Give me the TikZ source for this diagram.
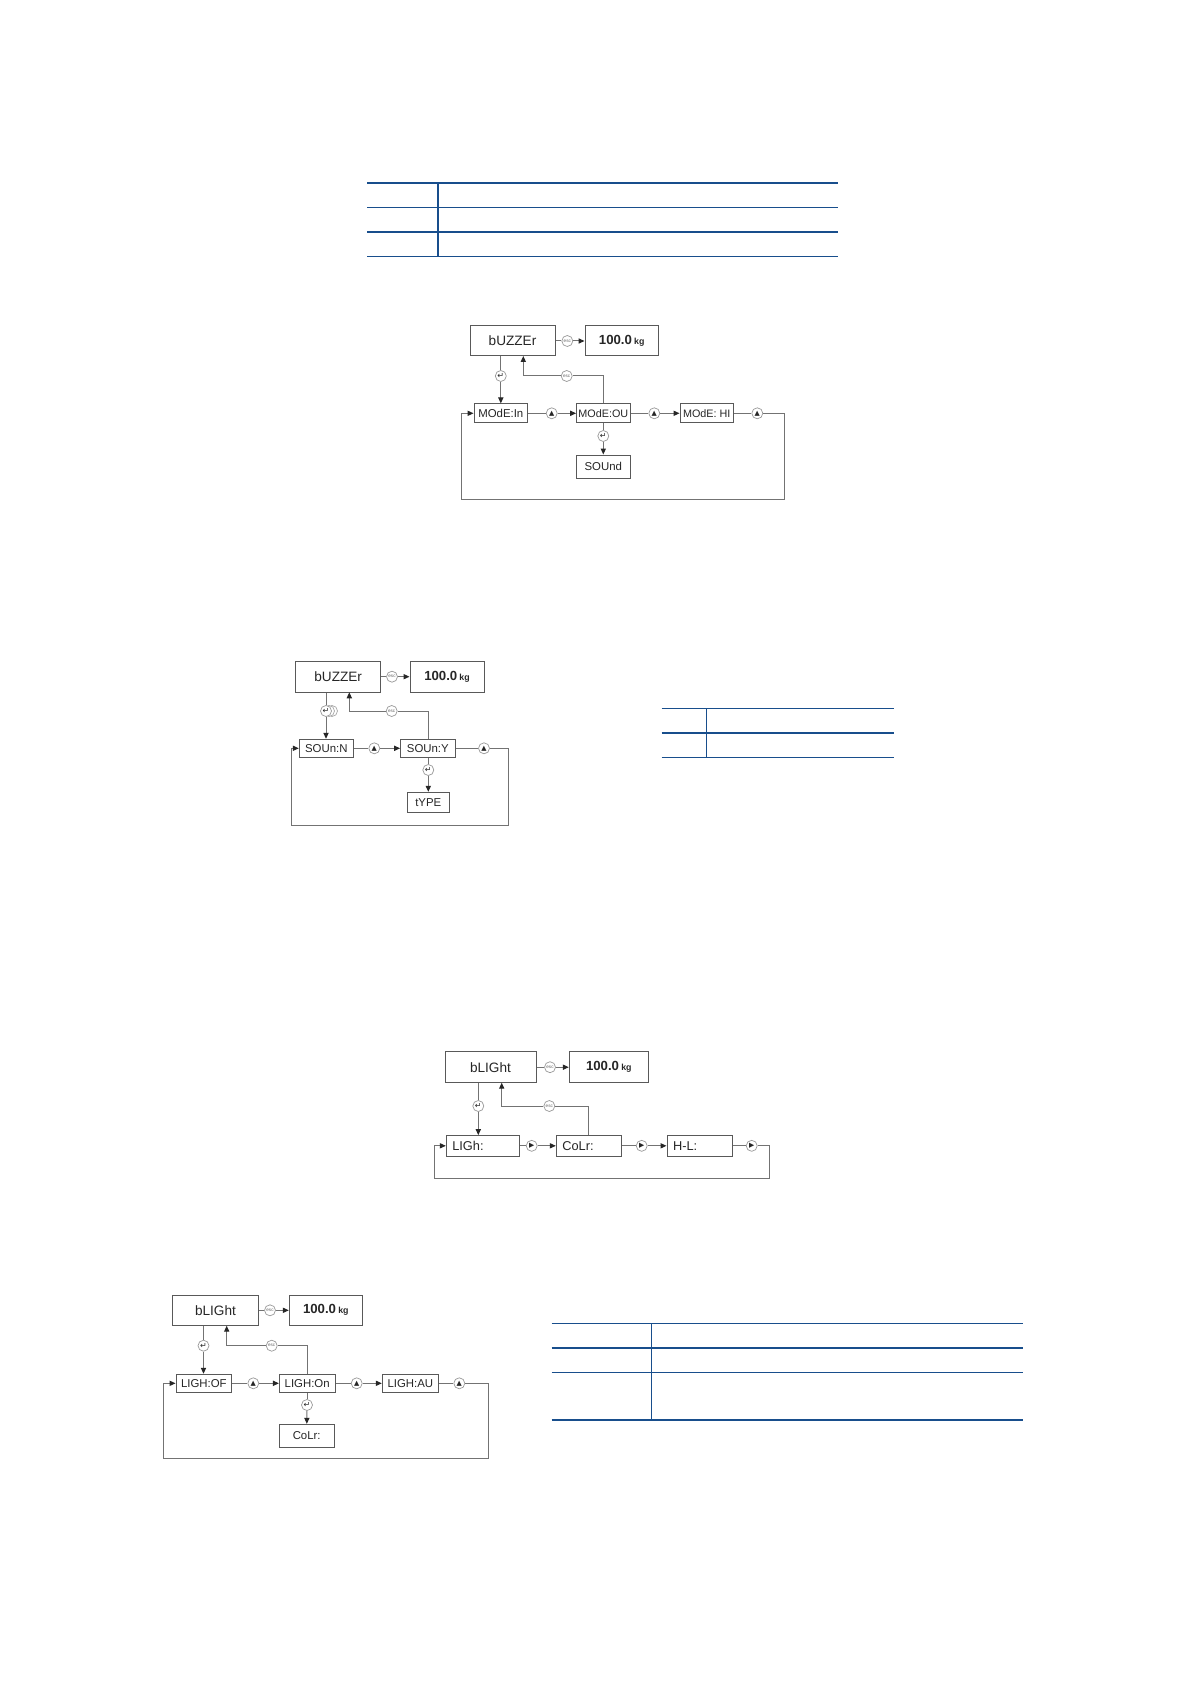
\documentclass[tikz,border=0pt]{standalone}
\usepackage{fontspec}
\setmainfont{Liberation Sans}
\newfontfamily\dvs{DejaVu Sans}
\usetikzlibrary{arrows.meta}
\definecolor{tblue}{RGB}{24,78,140}
\newcommand\kgtext{{\bfseries\fontsize{6.6}{7}\selectfont 100.0\,\fontsize{4.4}{5}\selectfont kg}}
\newcommand\upsym{{\dvs\fontsize{3.4}{3}\selectfont ▲}}
\newcommand\playsym{{\dvs\fontsize{3.4}{3}\selectfont ▶}}
\newcommand\entsym{{\dvs\fontsize{4}{3}\selectfont ↵}}
\newcommand\escsym{{\color{black!60}\fontsize{2.3}{2}\selectfont esc}}
\begin{document}
\begin{tikzpicture}[x=0.5pt,y=-0.5pt,
  box/.style={draw=black!65, line width=0.5pt, inner sep=0pt, text=black!85, font=\fontsize{5.7}{7}\selectfont},
  head/.style={box, font=\fontsize{6.8}{8}\selectfont},
  lbox/.style={box, align=left, font=\fontsize{6.4}{7}\selectfont},
  ic/.style={circle, draw=black!40, fill=white, line width=0.35pt, minimum size=5.5pt, inner sep=0pt, text=black!85},
  ln/.style={draw=black!55, line width=0.5pt},
  arr/.style={ln, -{Triangle[length=3pt,width=2.6pt,color=black!85]}},
  thk/.style={draw=tblue, line width=0.85pt},
  thn/.style={draw=tblue, line width=0.5pt}]
\useasboundingbox (0,0) rectangle (1191,1684);
\fill[white] (0,0) rectangle (1191,1684);

% ---------- table 1
\draw[thk] (367,182.7) -- (838,182.7);
\draw[thn] (367,207.3) -- (838,207.3);
\draw[thk] (367,231.7) -- (838,231.7);
\draw[thn] (367,256.3) -- (838,256.3);
\draw[thk] (437.7,182.7) -- (437.7,256.3);

% ---------- diagram 1
\node[head, minimum width=42.5pt, minimum height=15pt] (bz1) at (512.5,341) {bUZZEr};
\node[box, minimum width=36.7pt, minimum height=15pt] (k1) at (621.7,341) {\kgtext};
\node[box, minimum width=26.8pt, minimum height=9.4pt] (m1) at (500.8,413.3) {MOdE:In};
\node[box, minimum width=26.7pt, minimum height=9.4pt, font=\fontsize{5.4}{7}\selectfont] (m2) at (603.3,413.3) {MOdE:OU};
\node[box, minimum width=26.7pt, minimum height=9.4pt, font=\fontsize{5.4}{7}\selectfont] (m3) at (706.7,413.3) {MOdE: HI};
\node[box, minimum width=27.3pt, minimum height=11.7pt] (snd) at (603.3,466.7) {SOUnd};
\node[ic] (esc1) at (567.3,341) {\escsym};
\node[ic] (ent1) at (500.8,376) {\entsym};
\node[ic] (up1) at (551.7,413.3) {\upsym};
\node[ic] (up2) at (654.3,413.3) {\upsym};
\node[ic] (up3) at (757.3,413.3) {\upsym};
\node[ic] (escb1) at (566.7,376) {\escsym};
\node[ic] (ent2) at (603.3,436) {\entsym};
\coordinate (lp1r) at (784.3,499.3);
\coordinate (lp1l) at (461.7,499.3);
\coordinate (rt1) at (523.3,356);
\draw[ln] (bz1) -- (esc1);
\draw[arr] (esc1) -- (k1);
\draw[ln] (bz1.south -| ent1) -- (ent1);
\draw[arr] (ent1) -- (m1.north -| ent1);
\draw[ln] (m1) -- (up1);
\draw[arr] (up1) -- (m2);
\draw[ln] (m2) -- (up2);
\draw[arr] (up2) -- (m3);
\draw[ln] (m3) -- (up3);
\draw[arr] (up3) -| (lp1r) -- (lp1l) |- (m1.west);
\draw[ln] (m2.north) |- (escb1);
\draw[arr] (escb1) -| (rt1);
\draw[ln] (m2.south) -- (ent2);
\draw[arr] (ent2) -- (snd);

% ---------- diagram 2
\node[head, minimum width=42.5pt, minimum height=15.6pt] (bz2) at (338.2,676.7) {bUZZEr};
\node[box, minimum width=37pt, minimum height=15.6pt] (k2) at (447,676.7) {\kgtext};
\node[box, minimum width=27pt, minimum height=9pt] (sn) at (326.3,748.3) {SOUn:N};
\node[box, minimum width=27.2pt, minimum height=9pt] (sy) at (427.8,748.3) {SOUn:Y};
\node[box, minimum width=21pt, minimum height=10pt] (typ) at (428.3,802.3) {tYPE};
\node[ic] (esc2) at (392,676.7) {\escsym};
\draw[draw=black!35, fill=white, line width=0.35pt] (332,711) circle (2.75pt);
\draw[draw=black!35, fill=white, line width=0.35pt] (329,711) circle (2.75pt);
\node[ic] (ent3) at (326,711) {\entsym};
\node[ic] (up4) at (374.3,748.3) {\upsym};
\node[ic] (up5) at (484,748.3) {\upsym};
\node[ic] (escb2) at (391.7,711) {\escsym};
\node[ic] (ent4) at (428.3,770) {\entsym};
\coordinate (lp2r) at (508.3,825.7);
\coordinate (lp2l) at (291.7,825.7);
\coordinate (rt2) at (349.3,692.3);
\draw[ln] (bz2) -- (esc2);
\draw[arr] (esc2) -- (k2);
\draw[ln] (bz2.south -| ent3) -- (ent3);
\draw[arr] (ent3) -- (sn.north -| ent3);
\draw[ln] (sn) -- (up4);
\draw[arr] (up4) -- (sy);
\draw[ln] (sy) -- (up5);
\draw[arr] (up5) -| (lp2r) -- (lp2l) |- (sn.west);
\draw[ln] (sy.north -| ent4) |- (escb2);
\draw[arr] (escb2) -| (rt2);
\draw[ln] (sy.south -| ent4) -- (ent4);
\draw[arr] (ent4) -- (typ);

% ---------- table 2
\draw[thn] (661.7,708.3) -- (893.7,708.3);
\draw[thk] (661.7,732.7) -- (893.7,732.7);
\draw[thn] (661.7,757.3) -- (893.7,757.3);
\draw[thn] (706.3,708.3) -- (706.3,757.3);

% ---------- diagram 3
\node[head, minimum width=45.5pt, minimum height=15.5pt] (bl3) at (490.5,1067.2) {bLIGht};
\node[box, minimum width=39.5pt, minimum height=15.5pt] (k3) at (608.8,1067.2) {\kgtext};
\node[lbox, minimum height=10.2pt, text width=30.7pt, inner xsep=3pt] (lg) at (483,1145.8) {LIGh:};
\node[lbox, minimum height=10.2pt, text width=26.5pt, inner xsep=3pt] (cl) at (588.8,1145.8) {CoLr:};
\node[lbox, minimum height=10.2pt, text width=26.7pt, inner xsep=3pt] (hl) at (699.7,1145.8) {H-L:};
\node[ic] (esc3) at (550,1067.2) {\escsym};
\node[ic] (ent5) at (478.3,1106) {\entsym};
\node[ic] (pl1) at (531.7,1145.8) {\playsym};
\node[ic] (pl2) at (641.7,1145.8) {\playsym};
\node[ic] (pl3) at (751.7,1145.8) {\playsym};
\node[ic] (escb3) at (549.3,1106) {\escsym};
\coordinate (lp3r) at (769,1178.3);
\coordinate (lp3l) at (434,1178.3);
\coordinate (rt3) at (501.7,1082.7);
\draw[ln] (bl3) -- (esc3);
\draw[arr] (esc3) -- (k3);
\draw[ln] (bl3.south -| ent5) -- (ent5);
\draw[arr] (ent5) -- (lg.north -| ent5);
\draw[ln] (lg) -- (pl1);
\draw[arr] (pl1) -- (cl);
\draw[ln] (cl) -- (pl2);
\draw[arr] (pl2) -- (hl);
\draw[ln] (hl) -- (pl3);
\draw[arr] (pl3) -| (lp3r) -- (lp3l) |- (lg.west);
\draw[ln] (cl.north) |- (escb3);
\draw[arr] (escb3) -| (rt3);

% ---------- diagram 4
\node[head, minimum width=42.8pt, minimum height=15.3pt] (bl4) at (215.5,1310.3) {bLIGht};
\node[box, minimum width=36.5pt, minimum height=15.3pt] (k4) at (325.8,1310.3) {\kgtext};
\node[box, minimum width=27.8pt, minimum height=9pt] (of) at (203.8,1383.3) {LIGH:OF};
\node[box, minimum width=27.8pt, minimum height=9pt] (on) at (307.2,1383.3) {LIGH:On};
\node[box, minimum width=28pt, minimum height=9pt] (au) at (410.3,1383.3) {LIGH:AU};
\node[box, minimum width=27.3pt, minimum height=11.7pt] (clr) at (306.7,1436) {CoLr:};
\node[ic] (esc4) at (270,1310.3) {\escsym};
\node[ic] (ent6) at (203.5,1345.7) {\entsym};
\node[ic] (up6) at (253.3,1383.3) {\upsym};
\node[ic] (up7) at (356.7,1383.3) {\upsym};
\node[ic] (up8) at (459.3,1383.3) {\upsym};
\node[ic] (escb4) at (271.7,1345.7) {\escsym};
\node[ic] (ent7) at (307,1405) {\entsym};
\coordinate (lp4r) at (488.3,1458.3);
\coordinate (lp4l) at (163.3,1458.3);
\coordinate (rt4) at (226.7,1325.7);
\draw[ln] (bl4) -- (esc4);
\draw[arr] (esc4) -- (k4);
\draw[ln] (bl4.south -| ent6) -- (ent6);
\draw[arr] (ent6) -- (of.north -| ent6);
\draw[ln] (of) -- (up6);
\draw[arr] (up6) -- (on);
\draw[ln] (on) -- (up7);
\draw[arr] (up7) -- (au);
\draw[ln] (au) -- (up8);
\draw[arr] (up8) -| (lp4r) -- (lp4l) |- (of.west);
\draw[ln] (on.north -| ent7) |- (escb4);
\draw[arr] (escb4) -| (rt4);
\draw[ln] (on.south -| ent7) -- (ent7);
\draw[arr] (ent7) -- (clr);

% ---------- table 3
\draw[thn] (551.7,1323.3) -- (1022.7,1323.3);
\draw[thk] (551.7,1347.7) -- (1022.7,1347.7);
\draw[thn] (551.7,1372.3) -- (1022.7,1372.3);
\draw[thk] (551.7,1419.7) -- (1022.7,1419.7);
\draw[thn] (651.3,1323.3) -- (651.3,1419.7);
\end{tikzpicture}
\end{document}
